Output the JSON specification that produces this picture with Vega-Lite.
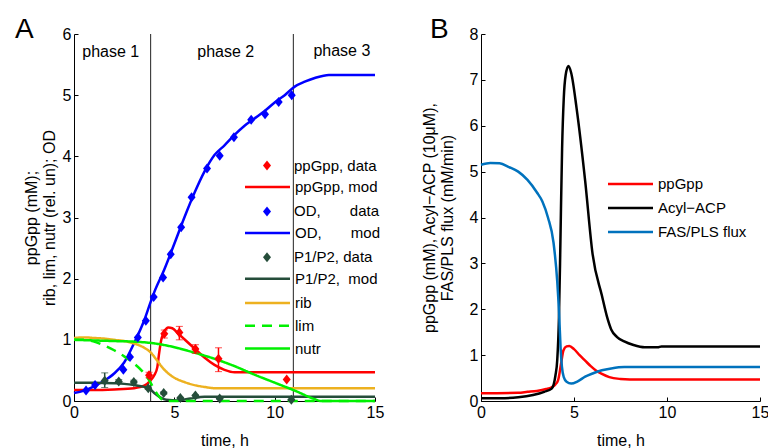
{
  "$schema": "https://vega.github.io/schema/vega-lite/v6.json",
  "padding": {"left": 15, "top": 16, "right": 4, "bottom": 0},
  "spacing": 37,
  "resolve": {"scale": {"stroke": "independent", "color": "independent", "strokeDash": "independent", "fill": "independent"}, "legend": {"stroke": "independent"}},
  "config": {
    "view": {"stroke": null},
    "font": "Liberation Sans",
    "axis": {"domainColor": "#000", "tickColor": "#000", "labelColor": "#000", "titleColor": "#000", "labelFontSize": 16, "titleFontSize": 16, "titleFontWeight": "normal", "grid": false, "tickSize": -4, "labelPadding": 7, "labelFont": "Liberation Sans", "titleFont": "Liberation Sans", "labelFlush": false, "titleLineHeight": 18},
    "legend": {"title": null, "orient": "none", "labelFontSize": 15, "labelColor": "#000", "labelFont": "Liberation Sans", "symbolOpacity": 1, "labelLimit": 300, "symbolSize": 100},
    "title": {"fontSize": 28, "fontWeight": "normal", "anchor": "start", "frame": "group", "color": "#000", "font": "Liberation Sans", "baseline": "alphabetic", "offset": -7}
  },
  "datasets": {
    "phases": [{"t": 3.82}, {"t": 10.93}],
    "phaseLabels": [
      {"label": "phase 1", "t": 1.83, "v": 5.7},
      {"label": "phase 2", "t": 7.56, "v": 5.7},
      {"label": "phase 3", "t": 13.35, "v": 5.73}
    ],
    "modelA": [
      {"s": "ppGpp, mod", "t": 0, "v": 0.18}, {"s": "ppGpp, mod", "t": 1, "v": 0.18}, {"s": "ppGpp, mod", "t": 2, "v": 0.19}, {"s": "ppGpp, mod", "t": 3, "v": 0.21}, {"s": "ppGpp, mod", "t": 3.5, "v": 0.25}, {"s": "ppGpp, mod", "t": 3.8, "v": 0.33}, {"s": "ppGpp, mod", "t": 4.0, "v": 0.42}, {"s": "ppGpp, mod", "t": 4.15, "v": 0.55}, {"s": "ppGpp, mod", "t": 4.25, "v": 0.8}, {"s": "ppGpp, mod", "t": 4.35, "v": 1.0}, {"s": "ppGpp, mod", "t": 4.5, "v": 1.13}, {"s": "ppGpp, mod", "t": 4.7, "v": 1.2}, {"s": "ppGpp, mod", "t": 4.9, "v": 1.19}, {"s": "ppGpp, mod", "t": 5.2, "v": 1.1}, {"s": "ppGpp, mod", "t": 5.5, "v": 1.01}, {"s": "ppGpp, mod", "t": 6, "v": 0.86}, {"s": "ppGpp, mod", "t": 6.5, "v": 0.71}, {"s": "ppGpp, mod", "t": 7, "v": 0.59}, {"s": "ppGpp, mod", "t": 7.5, "v": 0.51}, {"s": "ppGpp, mod", "t": 8, "v": 0.47}, {"s": "ppGpp, mod", "t": 15, "v": 0.47},
      {"s": "OD,\u00a0\u00a0\u00a0\u00a0\u00a0\u00a0 mod", "t": 0, "v": 0.13}, {"s": "OD,\u00a0\u00a0\u00a0\u00a0\u00a0\u00a0 mod", "t": 0.5, "v": 0.17}, {"s": "OD,\u00a0\u00a0\u00a0\u00a0\u00a0\u00a0 mod", "t": 1, "v": 0.24}, {"s": "OD,\u00a0\u00a0\u00a0\u00a0\u00a0\u00a0 mod", "t": 1.5, "v": 0.33}, {"s": "OD,\u00a0\u00a0\u00a0\u00a0\u00a0\u00a0 mod", "t": 2, "v": 0.45}, {"s": "OD,\u00a0\u00a0\u00a0\u00a0\u00a0\u00a0 mod", "t": 2.5, "v": 0.63}, {"s": "OD,\u00a0\u00a0\u00a0\u00a0\u00a0\u00a0 mod", "t": 3, "v": 0.95}, {"s": "OD,\u00a0\u00a0\u00a0\u00a0\u00a0\u00a0 mod", "t": 3.5, "v": 1.32}, {"s": "OD,\u00a0\u00a0\u00a0\u00a0\u00a0\u00a0 mod", "t": 3.82, "v": 1.62}, {"s": "OD,\u00a0\u00a0\u00a0\u00a0\u00a0\u00a0 mod", "t": 4, "v": 1.78}, {"s": "OD,\u00a0\u00a0\u00a0\u00a0\u00a0\u00a0 mod", "t": 4.5, "v": 2.15}, {"s": "OD,\u00a0\u00a0\u00a0\u00a0\u00a0\u00a0 mod", "t": 5, "v": 2.57}, {"s": "OD,\u00a0\u00a0\u00a0\u00a0\u00a0\u00a0 mod", "t": 5.5, "v": 3.0}, {"s": "OD,\u00a0\u00a0\u00a0\u00a0\u00a0\u00a0 mod", "t": 6, "v": 3.4}, {"s": "OD,\u00a0\u00a0\u00a0\u00a0\u00a0\u00a0 mod", "t": 6.5, "v": 3.75}, {"s": "OD,\u00a0\u00a0\u00a0\u00a0\u00a0\u00a0 mod", "t": 7, "v": 4.02}, {"s": "OD,\u00a0\u00a0\u00a0\u00a0\u00a0\u00a0 mod", "t": 7.5, "v": 4.18}, {"s": "OD,\u00a0\u00a0\u00a0\u00a0\u00a0\u00a0 mod", "t": 8, "v": 4.35}, {"s": "OD,\u00a0\u00a0\u00a0\u00a0\u00a0\u00a0 mod", "t": 8.5, "v": 4.5}, {"s": "OD,\u00a0\u00a0\u00a0\u00a0\u00a0\u00a0 mod", "t": 9, "v": 4.62}, {"s": "OD,\u00a0\u00a0\u00a0\u00a0\u00a0\u00a0 mod", "t": 9.5, "v": 4.74}, {"s": "OD,\u00a0\u00a0\u00a0\u00a0\u00a0\u00a0 mod", "t": 10, "v": 4.88}, {"s": "OD,\u00a0\u00a0\u00a0\u00a0\u00a0\u00a0 mod", "t": 10.5, "v": 5.0}, {"s": "OD,\u00a0\u00a0\u00a0\u00a0\u00a0\u00a0 mod", "t": 11, "v": 5.14}, {"s": "OD,\u00a0\u00a0\u00a0\u00a0\u00a0\u00a0 mod", "t": 11.5, "v": 5.22}, {"s": "OD,\u00a0\u00a0\u00a0\u00a0\u00a0\u00a0 mod", "t": 12, "v": 5.28}, {"s": "OD,\u00a0\u00a0\u00a0\u00a0\u00a0\u00a0 mod", "t": 12.7, "v": 5.33}, {"s": "OD,\u00a0\u00a0\u00a0\u00a0\u00a0\u00a0 mod", "t": 15, "v": 5.33},
      {"s": "P1/P2,\u00a0 mod", "t": 0, "v": 0.3}, {"s": "P1/P2,\u00a0 mod", "t": 1, "v": 0.3}, {"s": "P1/P2,\u00a0 mod", "t": 2, "v": 0.29}, {"s": "P1/P2,\u00a0 mod", "t": 2.5, "v": 0.28}, {"s": "P1/P2,\u00a0 mod", "t": 3, "v": 0.26}, {"s": "P1/P2,\u00a0 mod", "t": 3.5, "v": 0.23}, {"s": "P1/P2,\u00a0 mod", "t": 3.8, "v": 0.19}, {"s": "P1/P2,\u00a0 mod", "t": 4, "v": 0.13}, {"s": "P1/P2,\u00a0 mod", "t": 4.3, "v": 0.06}, {"s": "P1/P2,\u00a0 mod", "t": 4.6, "v": 0.02}, {"s": "P1/P2,\u00a0 mod", "t": 5.2, "v": 0.01}, {"s": "P1/P2,\u00a0 mod", "t": 5.8, "v": 0.04}, {"s": "P1/P2,\u00a0 mod", "t": 6.5, "v": 0.07}, {"s": "P1/P2,\u00a0 mod", "t": 15, "v": 0.07}
    ],
    "regA": [
      {"s": "rib", "t": 0, "v": 1.03}, {"s": "rib", "t": 0.5, "v": 1.04}, {"s": "rib", "t": 1, "v": 1.03}, {"s": "rib", "t": 1.5, "v": 1.02}, {"s": "rib", "t": 2, "v": 1.0}, {"s": "rib", "t": 2.5, "v": 0.98}, {"s": "rib", "t": 3, "v": 0.94}, {"s": "rib", "t": 3.5, "v": 0.87}, {"s": "rib", "t": 3.8, "v": 0.8}, {"s": "rib", "t": 4.1, "v": 0.68}, {"s": "rib", "t": 4.4, "v": 0.55}, {"s": "rib", "t": 4.7, "v": 0.45}, {"s": "rib", "t": 5, "v": 0.38}, {"s": "rib", "t": 5.5, "v": 0.31}, {"s": "rib", "t": 6, "v": 0.26}, {"s": "rib", "t": 6.5, "v": 0.23}, {"s": "rib", "t": 7, "v": 0.21}, {"s": "rib", "t": 15, "v": 0.21},
      {"s": "lim", "t": 0, "v": 1.0}, {"s": "lim", "t": 0.5, "v": 1.0}, {"s": "lim", "t": 1, "v": 0.97}, {"s": "lim", "t": 1.5, "v": 0.91}, {"s": "lim", "t": 2, "v": 0.83}, {"s": "lim", "t": 2.5, "v": 0.73}, {"s": "lim", "t": 3, "v": 0.61}, {"s": "lim", "t": 3.5, "v": 0.45}, {"s": "lim", "t": 3.8, "v": 0.31}, {"s": "lim", "t": 4.0, "v": 0.19}, {"s": "lim", "t": 4.2, "v": 0.09}, {"s": "lim", "t": 4.4, "v": 0.02}, {"s": "lim", "t": 4.6, "v": 0.0}, {"s": "lim", "t": 15, "v": 0.0},
      {"s": "nutr", "t": 0, "v": 1.0}, {"s": "nutr", "t": 1, "v": 0.99}, {"s": "nutr", "t": 2, "v": 0.98}, {"s": "nutr", "t": 3, "v": 0.97}, {"s": "nutr", "t": 3.8, "v": 0.95}, {"s": "nutr", "t": 5, "v": 0.88}, {"s": "nutr", "t": 6, "v": 0.79}, {"s": "nutr", "t": 7, "v": 0.69}, {"s": "nutr", "t": 8, "v": 0.57}, {"s": "nutr", "t": 9, "v": 0.43}, {"s": "nutr", "t": 10, "v": 0.3}, {"s": "nutr", "t": 11, "v": 0.17}, {"s": "nutr", "t": 12, "v": 0.03}, {"s": "nutr", "t": 12.3, "v": 0.0}, {"s": "nutr", "t": 15, "v": 0.0}
    ],
    "dataA": [
      {"s": "ppGpp, data", "t": 3.74, "v": 0.42, "lo": 0.38, "hi": 0.47},
      {"s": "ppGpp, data", "t": 4.5, "v": 1.1, "lo": 1.03, "hi": 1.16},
      {"s": "ppGpp, data", "t": 5.25, "v": 1.12, "lo": 1.0, "hi": 1.22},
      {"s": "ppGpp, data", "t": 6.05, "v": 0.85, "lo": 0.78, "hi": 0.92},
      {"s": "ppGpp, data", "t": 7.2, "v": 0.69, "lo": 0.48, "hi": 0.87},
      {"s": "ppGpp, data", "t": 10.6, "v": 0.35},
      {"s": "OD,\u00a0\u00a0\u00a0\u00a0\u00a0\u00a0 data", "t": 0.6, "v": 0.17},
      {"s": "OD,\u00a0\u00a0\u00a0\u00a0\u00a0\u00a0 data", "t": 1.05, "v": 0.26},
      {"s": "OD,\u00a0\u00a0\u00a0\u00a0\u00a0\u00a0 data", "t": 2.46, "v": 0.51},
      {"s": "OD,\u00a0\u00a0\u00a0\u00a0\u00a0\u00a0 data", "t": 2.79, "v": 0.72},
      {"s": "OD,\u00a0\u00a0\u00a0\u00a0\u00a0\u00a0 data", "t": 3.18, "v": 1.04},
      {"s": "OD,\u00a0\u00a0\u00a0\u00a0\u00a0\u00a0 data", "t": 3.58, "v": 1.31},
      {"s": "OD,\u00a0\u00a0\u00a0\u00a0\u00a0\u00a0 data", "t": 3.97, "v": 1.7},
      {"s": "OD,\u00a0\u00a0\u00a0\u00a0\u00a0\u00a0 data", "t": 4.44, "v": 2.02},
      {"s": "OD,\u00a0\u00a0\u00a0\u00a0\u00a0\u00a0 data", "t": 4.82, "v": 2.4},
      {"s": "OD,\u00a0\u00a0\u00a0\u00a0\u00a0\u00a0 data", "t": 5.34, "v": 2.84},
      {"s": "OD,\u00a0\u00a0\u00a0\u00a0\u00a0\u00a0 data", "t": 5.86, "v": 3.33},
      {"s": "OD,\u00a0\u00a0\u00a0\u00a0\u00a0\u00a0 data", "t": 6.63, "v": 3.8},
      {"s": "OD,\u00a0\u00a0\u00a0\u00a0\u00a0\u00a0 data", "t": 7.26, "v": 4.01},
      {"s": "OD,\u00a0\u00a0\u00a0\u00a0\u00a0\u00a0 data", "t": 7.97, "v": 4.31},
      {"s": "OD,\u00a0\u00a0\u00a0\u00a0\u00a0\u00a0 data", "t": 8.83, "v": 4.6},
      {"s": "OD,\u00a0\u00a0\u00a0\u00a0\u00a0\u00a0 data", "t": 9.52, "v": 4.69},
      {"s": "OD,\u00a0\u00a0\u00a0\u00a0\u00a0\u00a0 data", "t": 10.2, "v": 4.89},
      {"s": "OD,\u00a0\u00a0\u00a0\u00a0\u00a0\u00a0 data", "t": 10.85, "v": 5.0},
      {"s": "P1/P2, data", "t": 1.53, "v": 0.33, "lo": 0.22, "hi": 0.46},
      {"s": "P1/P2, data", "t": 2.23, "v": 0.32, "lo": 0.29, "hi": 0.35},
      {"s": "P1/P2, data", "t": 2.98, "v": 0.31, "lo": 0.28, "hi": 0.34},
      {"s": "P1/P2, data", "t": 3.7, "v": 0.21, "lo": 0.19, "hi": 0.23},
      {"s": "P1/P2, data", "t": 4.47, "v": 0.13, "lo": 0.11, "hi": 0.15},
      {"s": "P1/P2, data", "t": 5.3, "v": 0.05, "lo": 0.04, "hi": 0.06},
      {"s": "P1/P2, data", "t": 6.05, "v": 0.09, "lo": 0.08, "hi": 0.1},
      {"s": "P1/P2, data", "t": 7.26, "v": 0.04, "lo": 0.03, "hi": 0.05},
      {"s": "P1/P2, data", "t": 10.83, "v": 0.02, "lo": 0.01, "hi": 0.03}
    ],
    "modelB": [
      {"s": "ppGpp", "t": 0, "v": 0.17}, {"s": "ppGpp", "t": 2, "v": 0.18}, {"s": "ppGpp", "t": 2.5, "v": 0.2}, {"s": "ppGpp", "t": 3, "v": 0.22}, {"s": "ppGpp", "t": 3.5, "v": 0.26}, {"s": "ppGpp", "t": 3.8, "v": 0.3}, {"s": "ppGpp", "t": 4.0, "v": 0.36}, {"s": "ppGpp", "t": 4.15, "v": 0.46}, {"s": "ppGpp", "t": 4.3, "v": 0.8}, {"s": "ppGpp", "t": 4.43, "v": 1.1}, {"s": "ppGpp", "t": 4.6, "v": 1.19}, {"s": "ppGpp", "t": 4.75, "v": 1.2}, {"s": "ppGpp", "t": 5.0, "v": 1.13}, {"s": "ppGpp", "t": 5.3, "v": 1.0}, {"s": "ppGpp", "t": 5.6, "v": 0.88}, {"s": "ppGpp", "t": 5.9, "v": 0.76}, {"s": "ppGpp", "t": 6.2, "v": 0.66}, {"s": "ppGpp", "t": 6.5, "v": 0.59}, {"s": "ppGpp", "t": 6.9, "v": 0.52}, {"s": "ppGpp", "t": 7.5, "v": 0.48}, {"s": "ppGpp", "t": 8, "v": 0.47}, {"s": "ppGpp", "t": 15, "v": 0.47},
      {"s": "Acyl−ACP", "t": 0, "v": 0.06}, {"s": "Acyl−ACP", "t": 1, "v": 0.06}, {"s": "Acyl−ACP", "t": 2, "v": 0.08}, {"s": "Acyl−ACP", "t": 2.8, "v": 0.13}, {"s": "Acyl−ACP", "t": 3.4, "v": 0.2}, {"s": "Acyl−ACP", "t": 3.8, "v": 0.27}, {"s": "Acyl−ACP", "t": 4.0, "v": 0.55}, {"s": "Acyl−ACP", "t": 4.1, "v": 0.9}, {"s": "Acyl−ACP", "t": 4.19, "v": 1.8}, {"s": "Acyl−ACP", "t": 4.25, "v": 3.0}, {"s": "Acyl−ACP", "t": 4.3, "v": 4.2}, {"s": "Acyl−ACP", "t": 4.36, "v": 5.5}, {"s": "Acyl−ACP", "t": 4.45, "v": 6.6}, {"s": "Acyl−ACP", "t": 4.55, "v": 7.1}, {"s": "Acyl−ACP", "t": 4.7, "v": 7.3}, {"s": "Acyl−ACP", "t": 4.85, "v": 7.15}, {"s": "Acyl−ACP", "t": 5.14, "v": 6.38}, {"s": "Acyl−ACP", "t": 5.6, "v": 4.8}, {"s": "Acyl−ACP", "t": 6.0, "v": 3.2}, {"s": "Acyl−ACP", "t": 6.5, "v": 2.3}, {"s": "Acyl−ACP", "t": 6.8, "v": 1.8}, {"s": "Acyl−ACP", "t": 7.0, "v": 1.56}, {"s": "Acyl−ACP", "t": 7.3, "v": 1.4}, {"s": "Acyl−ACP", "t": 7.7, "v": 1.3}, {"s": "Acyl−ACP", "t": 8.2, "v": 1.22}, {"s": "Acyl−ACP", "t": 8.8, "v": 1.17}, {"s": "Acyl−ACP", "t": 9.5, "v": 1.17}, {"s": "Acyl−ACP", "t": 9.7, "v": 1.19}, {"s": "Acyl−ACP", "t": 15, "v": 1.19},
      {"s": "FAS/PLS flux", "t": 0, "v": 5.15}, {"s": "FAS/PLS flux", "t": 0.5, "v": 5.19}, {"s": "FAS/PLS flux", "t": 1, "v": 5.18}, {"s": "FAS/PLS flux", "t": 1.5, "v": 5.1}, {"s": "FAS/PLS flux", "t": 2, "v": 5.0}, {"s": "FAS/PLS flux", "t": 2.5, "v": 4.82}, {"s": "FAS/PLS flux", "t": 3, "v": 4.55}, {"s": "FAS/PLS flux", "t": 3.3, "v": 4.35}, {"s": "FAS/PLS flux", "t": 3.6, "v": 4.0}, {"s": "FAS/PLS flux", "t": 3.9, "v": 3.45}, {"s": "FAS/PLS flux", "t": 4.1, "v": 2.6}, {"s": "FAS/PLS flux", "t": 4.2, "v": 1.9}, {"s": "FAS/PLS flux", "t": 4.28, "v": 1.15}, {"s": "FAS/PLS flux", "t": 4.35, "v": 0.75}, {"s": "FAS/PLS flux", "t": 4.45, "v": 0.52}, {"s": "FAS/PLS flux", "t": 4.6, "v": 0.42}, {"s": "FAS/PLS flux", "t": 4.85, "v": 0.38}, {"s": "FAS/PLS flux", "t": 5.2, "v": 0.43}, {"s": "FAS/PLS flux", "t": 5.6, "v": 0.53}, {"s": "FAS/PLS flux", "t": 6, "v": 0.6}, {"s": "FAS/PLS flux", "t": 6.5, "v": 0.67}, {"s": "FAS/PLS flux", "t": 7, "v": 0.71}, {"s": "FAS/PLS flux", "t": 7.7, "v": 0.74}, {"s": "FAS/PLS flux", "t": 15, "v": 0.74}
    ]
  },
  "hconcat": [
    {
      "width": 301,
      "height": 367,
      "title": {"text": "A", "dx": -59, "dy": 11},
      "encoding": {
        "x": {"field": "t", "type": "quantitative", "scale": {"domain": [0, 15], "nice": false}, "axis": {"title": "time, h", "values": [0, 5, 10, 15], "titlePadding": 12}},
        "y": {"field": "v", "type": "quantitative", "scale": {"domain": [0, 6], "nice": false}, "axis": {"title": ["ppGpp (mM);", "rib, lim, nutr (rel. un); OD"], "values": [0, 1, 2, 3, 4, 5, 6], "titlePadding": 5}}
      },
      "layer": [
        {
          "data": {"name": "phases"},
          "mark": {"type": "rule", "color": "#222", "strokeWidth": 1},
          "encoding": {"y": null}
        },
        {
          "data": {"name": "phaseLabels"},
          "mark": {"type": "text", "fontSize": 16, "font": "Liberation Sans", "color": "#000"},
          "encoding": {"text": {"field": "label"}}
        },
        {
          "data": {"name": "modelA"},
          "mark": {"type": "line", "strokeWidth": 2.5, "interpolate": "monotone"},
          "encoding": {
            "stroke": {"field": "s", "type": "nominal",
              "scale": {"domain": ["ppGpp, mod", "OD,\u00a0\u00a0\u00a0\u00a0\u00a0\u00a0 mod", "P1/P2,\u00a0 mod"], "range": ["#ff0000", "#0000ff", "#254d3a"]},
              "legend": {"orient": "none", "legendX": 186, "legendY": 145.5, "symbolType": "M-4.5,0H4.5", "symbolStrokeWidth": 2.5, "labelOffset": 20, "rowPadding": 29.9}}
          }
        },
        {
          "data": {"name": "regA"},
          "mark": {"type": "line", "strokeWidth": 2.5, "interpolate": "monotone"},
          "encoding": {
            "color": {"field": "s", "type": "nominal",
              "scale": {"domain": ["rib", "lim", "nutr"], "range": ["#edb120", "#00f000", "#00f000"]},
              "legend": {"orient": "none", "legendX": 186, "legendY": 261.5, "symbolType": "M-4.5,0H4.5", "symbolStrokeWidth": 2.5, "labelOffset": 20, "rowPadding": 6.8}},
            "strokeDash": {"field": "s", "type": "nominal",
              "scale": {"domain": ["rib", "lim", "nutr"], "range": [[1, 0], [10, 7], [1, 0]]},
              "legend": null}
          }
        },
        {
          "data": {"name": "dataA"},
          "transform": [{"filter": "isValid(datum.lo) && datum.s == 'ppGpp, data'"}],
          "mark": {"type": "errorbar", "ticks": {"size": 7}, "rule": {"strokeWidth": 1.5}, "color": "#ff0000"},
          "encoding": {
            "y": {"field": "lo", "type": "quantitative", "title": ["ppGpp (mM);", "rib, lim, nutr (rel. un); OD"]},
            "y2": {"field": "hi"}
          }
        },
        {
          "data": {"name": "dataA"},
          "transform": [{"filter": "isValid(datum.lo) && datum.s == 'P1/P2, data'"}],
          "mark": {"type": "errorbar", "ticks": {"size": 7}, "rule": {"strokeWidth": 1.5}, "color": "#254d3a"},
          "encoding": {
            "y": {"field": "lo", "type": "quantitative", "title": ["ppGpp (mM);", "rib, lim, nutr (rel. un); OD"]},
            "y2": {"field": "hi"}
          }
        },
        {
          "data": {"name": "dataA"},
          "mark": {"type": "point", "filled": true, "size": 100, "opacity": 1, "shape": "M0,-1L0.8,0L0,1L-0.8,0Z"},
          "encoding": {
            "fill": {"field": "s", "type": "nominal",
              "scale": {"domain": ["ppGpp, data", "OD,\u00a0\u00a0\u00a0\u00a0\u00a0\u00a0 data", "P1/P2, data"], "range": ["#ff0000", "#0000ff", "#254d3a"]},
              "legend": {"orient": "none", "legendX": 185.5, "legendY": 124, "symbolType": "M0,-1L0.8,0L0,1L-0.8,0Z", "symbolStrokeWidth": 0, "labelOffset": 19.5, "rowPadding": 29.9}}
          }
        }
      ]
    },
    {
      "width": 279,
      "height": 367,
      "title": {"text": "B", "dx": -51, "dy": 11},
      "data": {"name": "modelB"},
      "mark": {"type": "line", "strokeWidth": 2.5, "interpolate": "monotone"},
      "encoding": {
        "x": {"field": "t", "type": "quantitative", "scale": {"domain": [0, 15], "nice": false}, "axis": {"title": "time, h", "values": [0, 5, 10, 15], "titlePadding": 12}},
        "y": {"field": "v", "type": "quantitative", "scale": {"domain": [0, 8], "nice": false}, "axis": {"title": ["ppGpp (mM), Acyl−ACP (10μM),", "FAS/PLS flux (mM/min)"], "values": [0, 1, 2, 3, 4, 5, 6, 7, 8], "titlePadding": 14}},
        "stroke": {"field": "s", "type": "nominal",
          "scale": {"domain": ["ppGpp", "Acyl−ACP", "FAS/PLS flux"], "range": ["#ff0000", "#000000", "#0072bd"]},
          "legend": {"orient": "none", "legendX": 142, "legendY": 142.5, "symbolType": "M-4.5,0H4.5", "symbolStrokeWidth": 2.5, "labelOffset": 20, "rowPadding": 8}}
      }
    }
  ]
}
